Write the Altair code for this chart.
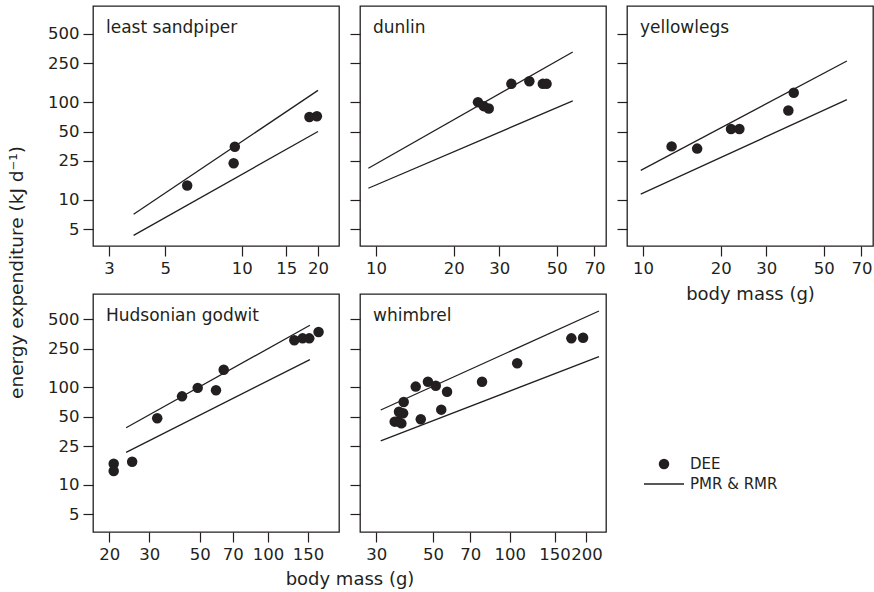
import altair as alt
import pandas as pd

FONT = "DejaVu Sans"
INK = "#231f20"

# ---------------- data ----------------
species = ["least sandpiper", "dunlin", "yellowlegs", "Hudsonian godwit", "whimbrel"]
legend_labels = ["DEE", "PMR & RMR"]
y_ticks = [5, 10, 25, 50, 100, 250, 500]

# DEE (daily energy expenditure) points: body mass (g) and kJ/d
ls_mass = [6.1, 9.3, 9.4, 18.5, 19.8]
ls_dee = [14.0, 23.6, 34.9, 70.5, 71.6]
du_mass = [24.8, 26.1, 27.3, 33.4, 39.2, 44.2, 45.7]
du_dee = [100, 91, 86, 154, 164, 154, 154]
yl_mass = [12.9, 16.2, 21.9, 23.6, 36.5, 38.3]
yl_dee = [35.2, 33.4, 53, 53, 82, 125]
hg_mass = [20.9, 20.9, 25.2, 32.5, 41.8, 49.0, 59.0, 63.8, 130.6, 142, 152, 167]
hg_dee = [16.5, 13.9, 17.3, 48.3, 81, 99, 93.5, 152, 305, 319, 319, 371]
wh_mass = [35.4, 36.5, 37.6, 36.8, 38.2, 38.4, 42.8, 44.8, 47.8, 51.3, 53.9, 56.8, 77.9, 107, 174.5, 194]
wh_dee = [44.6, 45, 42.8, 56.4, 54.3, 71, 102, 47.1, 114.6, 104, 59.2, 90.3, 114.6, 177, 319, 324]

# PMR (upper) and RMR (lower) allometric lines: end points
ls_line_mass = [3.75, 20]
ls_pmr = [7.1, 132]
ls_rmr = [4.3, 50]
du_line_mass = [9.34, 57.7]
du_pmr = [21.0, 327]
du_rmr = [13.1, 103]
yl_line_mass = [9.8, 61.5]
yl_pmr = [20.0, 264]
yl_rmr = [11.4, 106]
hg_line_mass = [23.7, 153]
hg_pmr = [38.6, 434]
hg_rmr = [21.6, 193]
wh_line_mass = [31.2, 224]
wh_pmr = [58.7, 608]
wh_rmr = [28.3, 207]

# axis tick values per panel
ls_xticks = [3, 5, 10, 15, 20]
du_xticks = [10, 20, 30, 50, 70]
yl_xticks = [10, 20, 30, 50, 70]
hg_xticks = [20, 30, 50, 70, 100, 150]
wh_xticks = [30, 50, 70, 100, 150, 200]

# ---------------- layout ----------------
W = 246
H_TOP = 240
H_BOT = 238
Y_DOM_TOP = [3.35, 968]
Y_DOM_BOT = [3.29, 909]


def panel(name, mass, dee, lmass, pmr, rmr, xdom, xvals, ydom, h,
          ylabels=False, xtitle_kw=None, ytitle_kw=None, extra=None):
    xs = alt.Scale(type="log", domain=xdom, nice=False)
    ys = alt.Scale(type="log", domain=ydom, nice=False)
    xkw = dict(values=xvals, format="d", labelOverlap=False, labelFlush=False, title=None)
    if xtitle_kw:
        xkw.update(xtitle_kw)
    ykw = dict(values=y_ticks, format="d", labelOverlap=False, labelFlush=False,
               labels=ylabels, title=None)
    if ytitle_kw:
        ykw.update(ytitle_kw)
    xax = alt.Axis(**xkw)
    yax = alt.Axis(**ykw)

    pts = alt.Chart(pd.DataFrame({"mass": mass, "dee": dee})).mark_circle(
        size=110, color=INK, opacity=1
    ).encode(
        x=alt.X("mass:Q", scale=xs, axis=xax),
        y=alt.Y("dee:Q", scale=ys, axis=yax),
    )
    ldf = pd.DataFrame({
        "mass": list(lmass) + list(lmass),
        "dee": list(pmr) + list(rmr),
        "kind": ["PMR", "PMR", "RMR", "RMR"],
    })
    lines = alt.Chart(ldf).mark_line(color=INK, strokeWidth=1.3).encode(
        x=alt.X("mass:Q", scale=xs, axis=xax),
        y=alt.Y("dee:Q", scale=ys, axis=yax),
        detail="kind:N",
    )
    label = alt.Chart(pd.DataFrame({"name": [name]})).mark_text(
        align="left", baseline="alphabetic", font=FONT, fontSize=17, color=INK
    ).encode(x=alt.value(13), y=alt.value(27), text="name:N")
    layers = [lines, pts, label]
    if extra:
        layers += extra
    return alt.layer(*layers).properties(width=W, height=h)


# invisible anchor to pin the page origin
anchor = alt.Chart(pd.DataFrame({"a": [0]})).mark_rect(opacity=0).encode(
    x=alt.value(-92), x2=alt.value(-91), y=alt.value(-5), y2=alt.value(-4)
)

# legend drawn in the empty cell right of the whimbrel panel
leg_dot = alt.Chart(pd.DataFrame({"label": [legend_labels[0]]})).mark_circle(
    size=110, color=INK, opacity=1
).encode(x=alt.value(304), y=alt.value(170))
leg_rule = alt.Chart(pd.DataFrame({"label": [legend_labels[1]]})).mark_rule(
    color=INK, strokeWidth=1.3
).encode(x=alt.value(284), x2=alt.value(324), y=alt.value(190))
leg_t1 = alt.Chart(pd.DataFrame({"label": [legend_labels[0]]})).mark_text(
    align="left", baseline="middle", font=FONT, fontSize=15, color=INK
).encode(x=alt.value(330), y=alt.value(170), text="label:N")
leg_t2 = alt.Chart(pd.DataFrame({"label": [legend_labels[1]]})).mark_text(
    align="left", baseline="middle", font=FONT, fontSize=15, color=INK
).encode(x=alt.value(330), y=alt.value(190), text="label:N")

xt_common = dict(titleAlign="center", titleBaseline="middle", titleAngle=0)

p1 = panel(species[0], ls_mass, ls_dee, ls_line_mass, ls_pmr, ls_rmr,
           [2.594, 24.2], ls_xticks, Y_DOM_TOP, H_TOP, ylabels=True,
           ytitle_kw=dict(title="energy expenditure (kJ d⁻¹)", titleX=-77, titleY=266,
                          titleAngle=270, titleAlign="center", titleBaseline="middle",
                          titleFontSize=18.5),
           extra=[anchor])
p2 = panel(species[1], du_mass, du_dee, du_line_mass, du_pmr, du_rmr,
           [8.67, 77.6], du_xticks, Y_DOM_TOP, H_TOP)
p3 = panel(species[2], yl_mass, yl_dee, yl_line_mass, yl_pmr, yl_rmr,
           [8.67, 77.6], yl_xticks, Y_DOM_TOP, H_TOP,
           xtitle_kw=dict(title="body mass (g)", titleX=W / 2, titleY=48, **xt_common))
p4 = panel(species[3], hg_mass, hg_dee, hg_line_mass, hg_pmr, hg_rmr,
           [16.94, 205.5], hg_xticks, Y_DOM_BOT, H_BOT, ylabels=True,
           xtitle_kw=dict(title="body mass (g)", titleX=256.5, titleY=47, **xt_common))
p5 = panel(species[4], wh_mass, wh_dee, wh_line_mass, wh_pmr, wh_rmr,
           [25.88, 238.6], wh_xticks, Y_DOM_BOT, H_BOT,
           extra=[leg_dot, leg_rule, leg_t1, leg_t2])

chart = alt.concat(
    p1, p2, p3, p4, p5,
    columns=3,
    spacing={"row": 48, "column": 21},
    bounds="flush",
).resolve_scale(
    x="independent", y="independent"
).properties(
    padding={"left": 0, "top": 0, "right": 0, "bottom": 0},
    background="white",
).configure_view(
    stroke=INK, strokeWidth=1.3
).configure_axis(
    domain=False, grid=False,
    tickColor=INK, tickSize=10, tickWidth=1.2,
    labelFont=FONT, labelFontSize=16.5, labelColor=INK, labelPadding=4,
    titleFont=FONT, titleFontSize=18, titleFontWeight="normal", titleColor=INK,
)

chart.save("out.html", embed_options={"renderer": "svg", "actions": False})
